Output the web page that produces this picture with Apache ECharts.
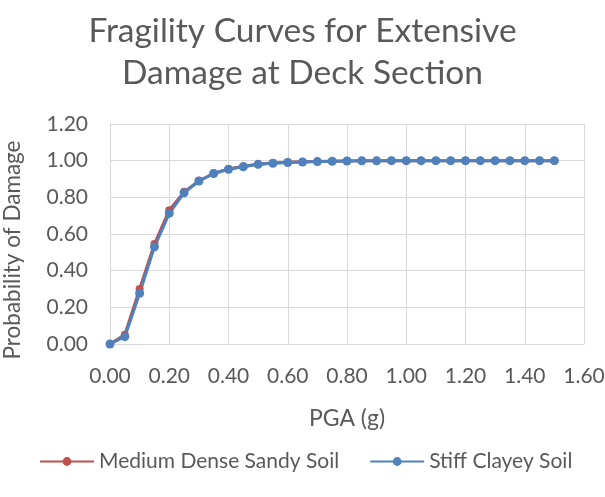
<!DOCTYPE html>
<html><head><meta charset="utf-8">
<script src="https://cdn.jsdelivr.net/npm/echarts@6/dist/echarts.min.js"></script>
<style>html,body{margin:0;padding:0;background:#fff}#c{width:605px;height:497px}</style>
</head><body><div id="c"></div>
<script>
const pga = [0,0.05,0.1,0.15,0.2,0.25,0.3,0.35,0.4,0.45,0.5,0.55,0.6,0.65,0.7,0.75,0.8,0.85,0.9,0.95,1.0,1.05,1.1,1.15,1.2,1.25,1.3,1.35,1.4,1.45,1.5];
const sandy = [0,0.05,0.30,0.545,0.73,0.83,0.89,0.93,0.955,0.97,0.98,0.987,0.991,0.994,0.996,0.997,0.998,0.999,0.999,1,1,1,1,1,1,1,1,1,1,1,1];
const clayey = [0,0.04,0.277,0.53,0.713,0.825,0.889,0.93,0.953,0.967,0.98,0.986,0.99,0.993,0.995,0.997,0.998,0.999,0.999,1,1,1,1,1,1,1,1,1,1,1,1];
const FONT = 'Lato, "Open Sans", sans-serif';
const chart = echarts.init(document.getElementById('c'));
chart.setOption({
  animation:false,
  title:{text:'Fragility Curves for Extensive\nDamage at Deck Section',left:'center',top:5,
    textStyle:{fontFamily:FONT,fontSize:33.5,fontWeight:'normal',color:'#595959',lineHeight:42}},
  grid:{left:110,right:21,top:124,bottom:153,containLabel:false,outerBoundsMode:'none'},
  legend:{bottom:20,left:34,itemWidth:54,itemHeight:11,itemGap:30,
    textStyle:{fontFamily:FONT,fontSize:21,color:'#595959'},
    data:['Medium Dense Sandy Soil','Stiff Clayey Soil']},
  xAxis:{type:'value',min:0,max:1.6,interval:0.2,
    name:'PGA (g)',nameLocation:'middle',nameGap:63,
    nameTextStyle:{fontFamily:FONT,fontSize:23,color:'#595959'},
    axisLine:{show:true,lineStyle:{color:'#d9d9d9',width:1}},axisTick:{show:false},
    axisLabel:{fontFamily:FONT,fontSize:21,color:'#595959',margin:22,formatter:v=>v.toFixed(2)},
    splitLine:{show:true,lineStyle:{color:'#d9d9d9',width:1}}},
  yAxis:{type:'value',min:0,max:1.2,interval:0.2,
    name:'Probability of Damage',nameLocation:'middle',nameGap:86,
    nameTextStyle:{fontFamily:FONT,fontSize:22.5,color:'#595959',padding:[0,32,0,0]},
    axisLine:{show:true,lineStyle:{color:'#d9d9d9',width:1}},axisTick:{show:false},
    axisLabel:{fontFamily:FONT,fontSize:21,color:'#595959',margin:22,formatter:v=>v.toFixed(2)},
    splitLine:{show:true,lineStyle:{color:'#d9d9d9',width:1}}},
  series:[
    {name:'Medium Dense Sandy Soil',type:'line',data:pga.map((x,i)=>[x,sandy[i]]),
      symbol:'circle',symbolSize:8,color:'#C0504D',lineStyle:{width:3,color:'#C0504D'},itemStyle:{color:'#C0504D'}},
    {name:'Stiff Clayey Soil',type:'line',data:pga.map((x,i)=>[x,clayey[i]]),
      symbol:'circle',symbolSize:9,color:'#4F81BD',lineStyle:{width:3,color:'#4F81BD'},itemStyle:{color:'#4F81BD'}}
  ]
});
</script></body></html>
